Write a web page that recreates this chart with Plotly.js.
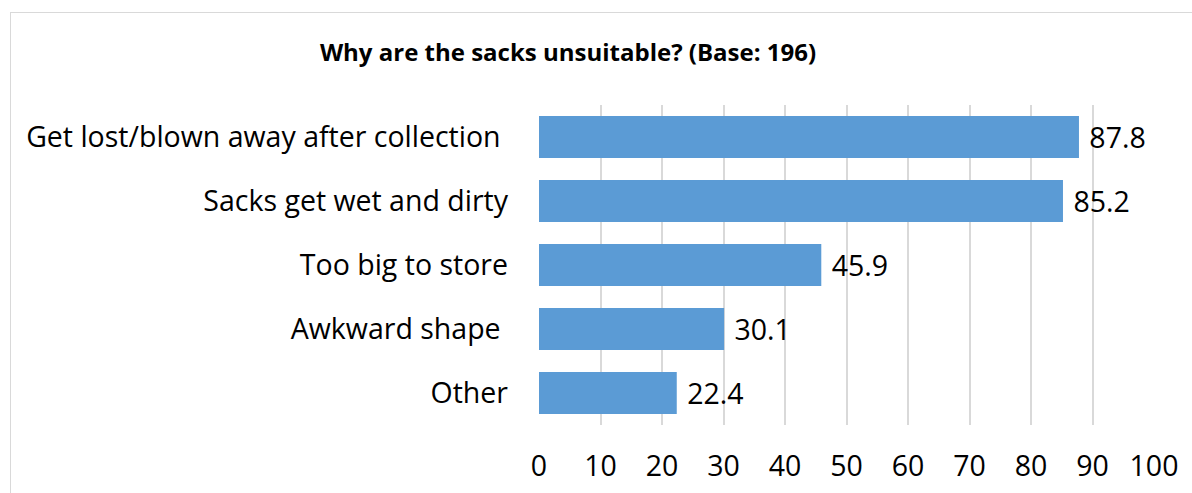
<!DOCTYPE html>
<html>
<head>
<meta charset="utf-8">
<script src="https://cdn.plot.ly/plotly-3.0.1.min.js"></script>
<style>
html,body{margin:0;padding:0;background:#fff;}
#wrap{position:relative;width:1192px;height:493px;overflow:hidden;}
#frame{position:absolute;left:10px;top:12px;width:1200px;height:500px;border-left:1px solid #d9d9d9;border-top:1px solid #d9d9d9;pointer-events:none;}
#chart{position:absolute;left:0;top:0;width:1192px;height:493px;}
</style>
</head>
<body>
<div id="wrap"><div id="chart"></div><div id="frame"></div></div>
<script>
const categories = ["Get lost/blown away after collection ", "Sacks get wet and dirty", "Too big to store", "Awkward shape ", "Other"];
const values = [87.8, 85.2, 45.9, 30.1, 22.4];
const labels = ["87.8", "85.2", "45.9", "30.1", "22.4"];
const titleText = "Why are the sacks unsuitable? (Base: 196)";
const xTicks = [0,10,20,30,40,50,60,70,80,90,100];

const FONT = "'Open Sans', sans-serif";

Plotly.newPlot('chart', [{
  type: 'bar',
  orientation: 'h',
  y: categories,
  x: values,
  text: labels.map(s => '\u00a0' + s),
  textposition: 'outside',
  cliponaxis: false,
  textfont: {family: FONT, size: 28.5, color: '#000'},
  marker: {color: '#5b9bd5'},
  width: 0.66,
  hoverinfo: 'none'
}], {
  width: 1192, height: 493,
  margin: {l: 539, r: 38, t: 105, b: 68, pad: 0},
  paper_bgcolor: '#fff', plot_bgcolor: '#fff',
  showlegend: false,
  title: {text: '<b>' + titleText + '</b>', font: {family: FONT, size: 24, color: '#000'}, x: 568/1192, xanchor: 'center', y: 1 - 53/493, yanchor: 'middle'},
  xaxis: {range: [0, 100], tickvals: xTicks, showgrid: true, gridcolor: '#d9d9d9', gridwidth: 2, zeroline: false, showline: false, ticks: '', tickfont: {family: FONT, size: 28.5, color: '#000'}, ticklabelstandoff: 21, fixedrange: true},
  yaxis: {autorange: 'reversed', showgrid: false, zeroline: false, showline: false, ticks: '', tickfont: {family: FONT, size: 28.5, color: '#000'}, ticklabelstandoff: 30, fixedrange: true},
  bargap: 0.34
}, {displayModeBar: false, staticPlot: true});
</script>
</body>
</html>
